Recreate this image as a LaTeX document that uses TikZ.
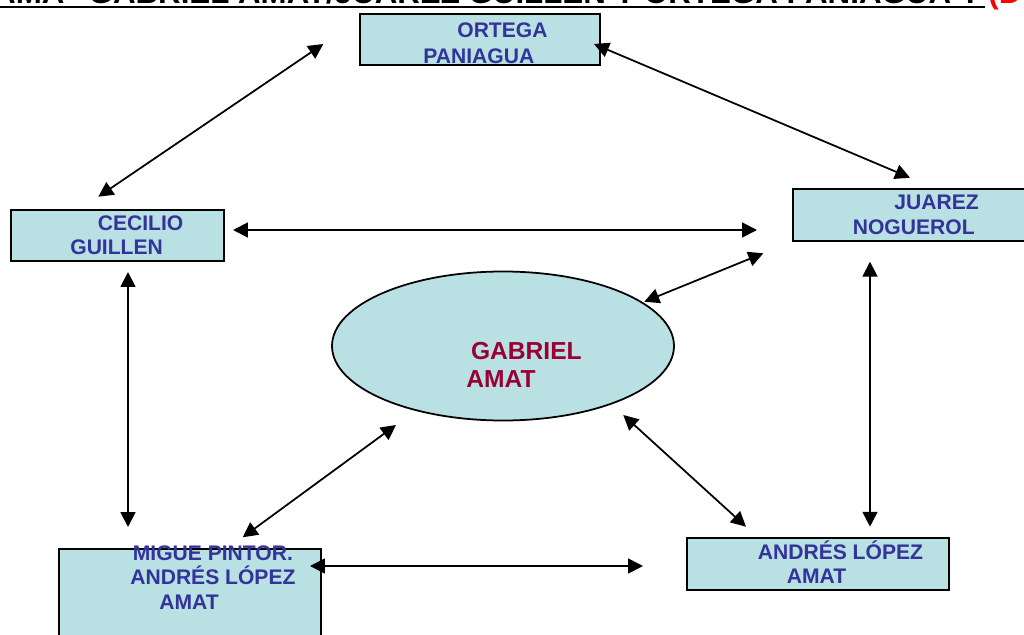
\documentclass[tikz,border=0pt]{standalone}
\usepackage{fontspec}
\setmainfont{Liberation Sans}
\usetikzlibrary{arrows.meta,shapes.geometric}
\definecolor{boxfill}{RGB}{185,224,227}
\definecolor{nameblue}{RGB}{51,51,153}
\definecolor{namered}{RGB}{153,0,51}

\begin{document}
\begin{tikzpicture}[
      x=0.02cm, y=-0.02cm,
      person/.style={
        draw, fill=boxfill, line width=1.2pt,
        inner sep=0pt, anchor=north west
      },
      who/.style={
        anchor=base west, inner sep=0pt, text=nameblue,
        font=\fontsize{12}{14}\selectfont\bfseries
      },
      link/.style={
        {Triangle[length=8.5pt,width=8.5pt]}-{Triangle[length=8.5pt,width=8.5pt]},
        line width=1pt
      }
    ]
      \clip (0,0) rectangle (1024,635);
      \useasboundingbox (0,0) rectangle (1024,635);

      % title, cut off at the top
      \node[anchor=base east, inner sep=0pt,
        font=\fontsize{17.8}{20}\selectfont\bfseries] (title) at (981,4)
        {ORGANIGRAMA "GABRIEL AMAT/JUAREZ GUILLEN Y ORTEGA PANIAGUA Y};
      \node[anchor=base west, inner sep=0pt, text=red,
        font=\fontsize{17.8}{20}\selectfont\bfseries] (titlered) at (988,4) {(D};
      \draw[line width=1.1pt] (0,7) -- (985,7);

      % boxes
      \node[person, minimum width=240*0.02cm, minimum height=51*0.02cm]
        (ortega) at (359,13) {};
      \node[person, minimum width=213*0.02cm, minimum height=51*0.02cm]
        (cecilio) at (10,209) {};
      \node[person, minimum width=240*0.02cm, minimum height=52*0.02cm]
        (juarez) at (792,188) {};
      \node[person, minimum width=262*0.02cm, minimum height=120*0.02cm]
        (migue) at (58,548) {};
      \node[person, minimum width=262*0.02cm, minimum height=52*0.02cm]
        (andres) at (686,537) {};
      \node[ellipse, draw, fill=boxfill, line width=1pt,
        minimum width=342*0.02cm, minimum height=149*0.02cm]
        (gabriel) at (503,346) {};

      % names
      \node[who] (ortega1) at (457,37.3) {ORTEGA};
      \node[who] (ortega2) at (423,63.3) {PANIAGUA};
      \node[who] (cecilio1) at (97.5,230.7) {CECILIO};
      \node[who] (cecilio2) at (70,254) {GUILLEN};
      \node[who] (juarez1) at (894,209.5) {JUAREZ};
      \node[who] (juarez2) at (852.5,234.5) {NOGUEROL};
      \node[who] (migue1) at (132.5,560) {MIGUE PINTOR.};
      \node[who] (migue2) at (130,584.3) {ANDRÉS LÓPEZ};
      \node[who] (migue3) at (159,609.3) {AMAT};
      \node[who] (andres1) at (757.5,559) {ANDRÉS LÓPEZ};
      \node[who] (andres2) at (786.5,583.3) {AMAT};
      \node[who, text=namered, font=\fontsize{14}{16}\selectfont\bfseries]
        (gabriel1) at (470.7,359.3) {GABRIEL};
      \node[who, text=namered, font=\fontsize{14}{16}\selectfont\bfseries]
        (gabriel2) at (466,387.3) {AMAT};

      % arrow ends
      \coordinate (ce-up) at (98.3,196.7);
      \coordinate (or-left) at (323.3,44);
      \coordinate (or-right) at (594,44);
      \coordinate (ju-up) at (910,177.7);
      \coordinate (ce-right) at (233,230);
      \coordinate (ju-left) at (757,230);
      \coordinate (ce-down) at (128,272);
      \coordinate (mi-up) at (128,527);
      \coordinate (ju-down) at (870,261.7);
      \coordinate (an-up) at (870,526.7);
      \coordinate (ga-ne) at (644.3,301.7);
      \coordinate (ju-sw) at (763.3,253.3);
      \coordinate (mi-ne) at (242.7,537.3);
      \coordinate (ga-sw) at (396,425);
      \coordinate (ga-se) at (623.3,415);
      \coordinate (an-nw) at (746,526.7);
      \coordinate (mi-right) at (310,566);
      \coordinate (an-left) at (643,566);

      \foreach \a/\b in {ce-up/or-left, or-right/ju-up, ce-right/ju-left,
        ce-down/mi-up, ju-down/an-up, ga-ne/ju-sw, mi-ne/ga-sw,
        ga-se/an-nw, mi-right/an-left} {
        \draw[link] (\a) -- (\b);
      }
    \end{tikzpicture}
\end{document}
